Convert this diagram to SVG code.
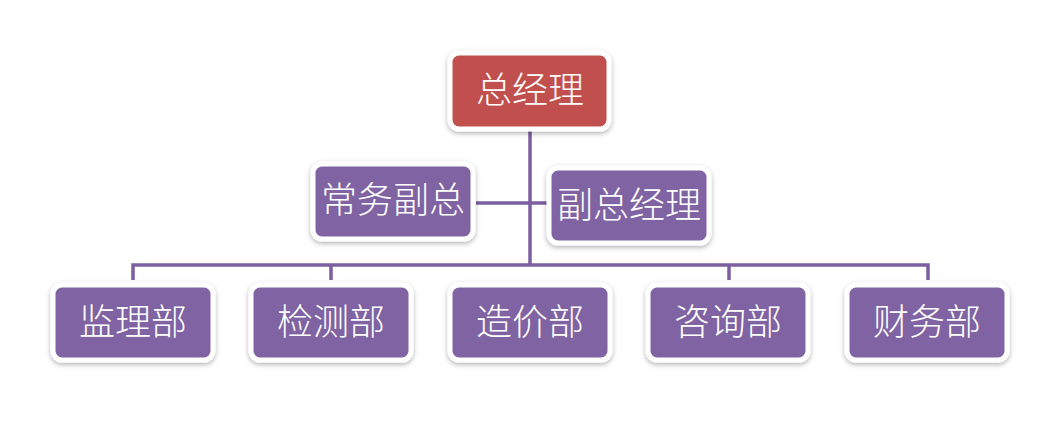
<svg xmlns="http://www.w3.org/2000/svg" width="1054" height="422" viewBox="0 0 1054 422">
<style>
.box{stroke:#fff;stroke-width:5;filter:url(#sh)}
.p{fill:#8064A2}
.r{fill:#C0504D}
.t{font-family:"Noto Sans CJK SC",sans-serif;font-size:36px;font-weight:300;fill:#fff;text-anchor:middle;dominant-baseline:central}
.c{stroke:#7B5FA0;stroke-width:3.5;fill:none}
</style>
<defs>
<filter id="sh" x="-20%" y="-30%" width="140%" height="160%">
<feDropShadow dx="0" dy="2" stdDeviation="2.5" flood-color="#000" flood-opacity="0.3"/>
</filter>
</defs>
<rect width="1054" height="422" fill="#fff"/>
<g id="connectors">
<path class="c" d="M530 130V265M133 280V265H928V280M331 265V280M729 265V280M476 203H550"/>
</g>
<g id="n0"><rect class="box r" x="450" y="53" width="159" height="76" rx="9"/><text class="t" x="530" y="87">总经理</text></g>
<g id="n1"><rect class="box p" x="313" y="164" width="160" height="75" rx="9"/><text class="t" x="393" y="197">常务副总</text></g>
<g id="n2"><rect class="box p" x="549" y="168" width="160" height="75" rx="9"/><text class="t" x="629" y="202">副总经理</text></g>
<g id="n3"><rect class="box p" x="53" y="285" width="160" height="75" rx="9"/><text class="t" x="133" y="319">监理部</text></g>
<g id="n4"><rect class="box p" x="251" y="285" width="160" height="75" rx="9"/><text class="t" x="331" y="319">检测部</text></g>
<g id="n5"><rect class="box p" x="450" y="285" width="160" height="75" rx="9"/><text class="t" x="530" y="319">造价部</text></g>
<g id="n6"><rect class="box p" x="648" y="285" width="160" height="75" rx="9"/><text class="t" x="728" y="319">咨询部</text></g>
<g id="n7"><rect class="box p" x="847" y="285" width="160" height="75" rx="9"/><text class="t" x="927" y="319">财务部</text></g>
</svg>
